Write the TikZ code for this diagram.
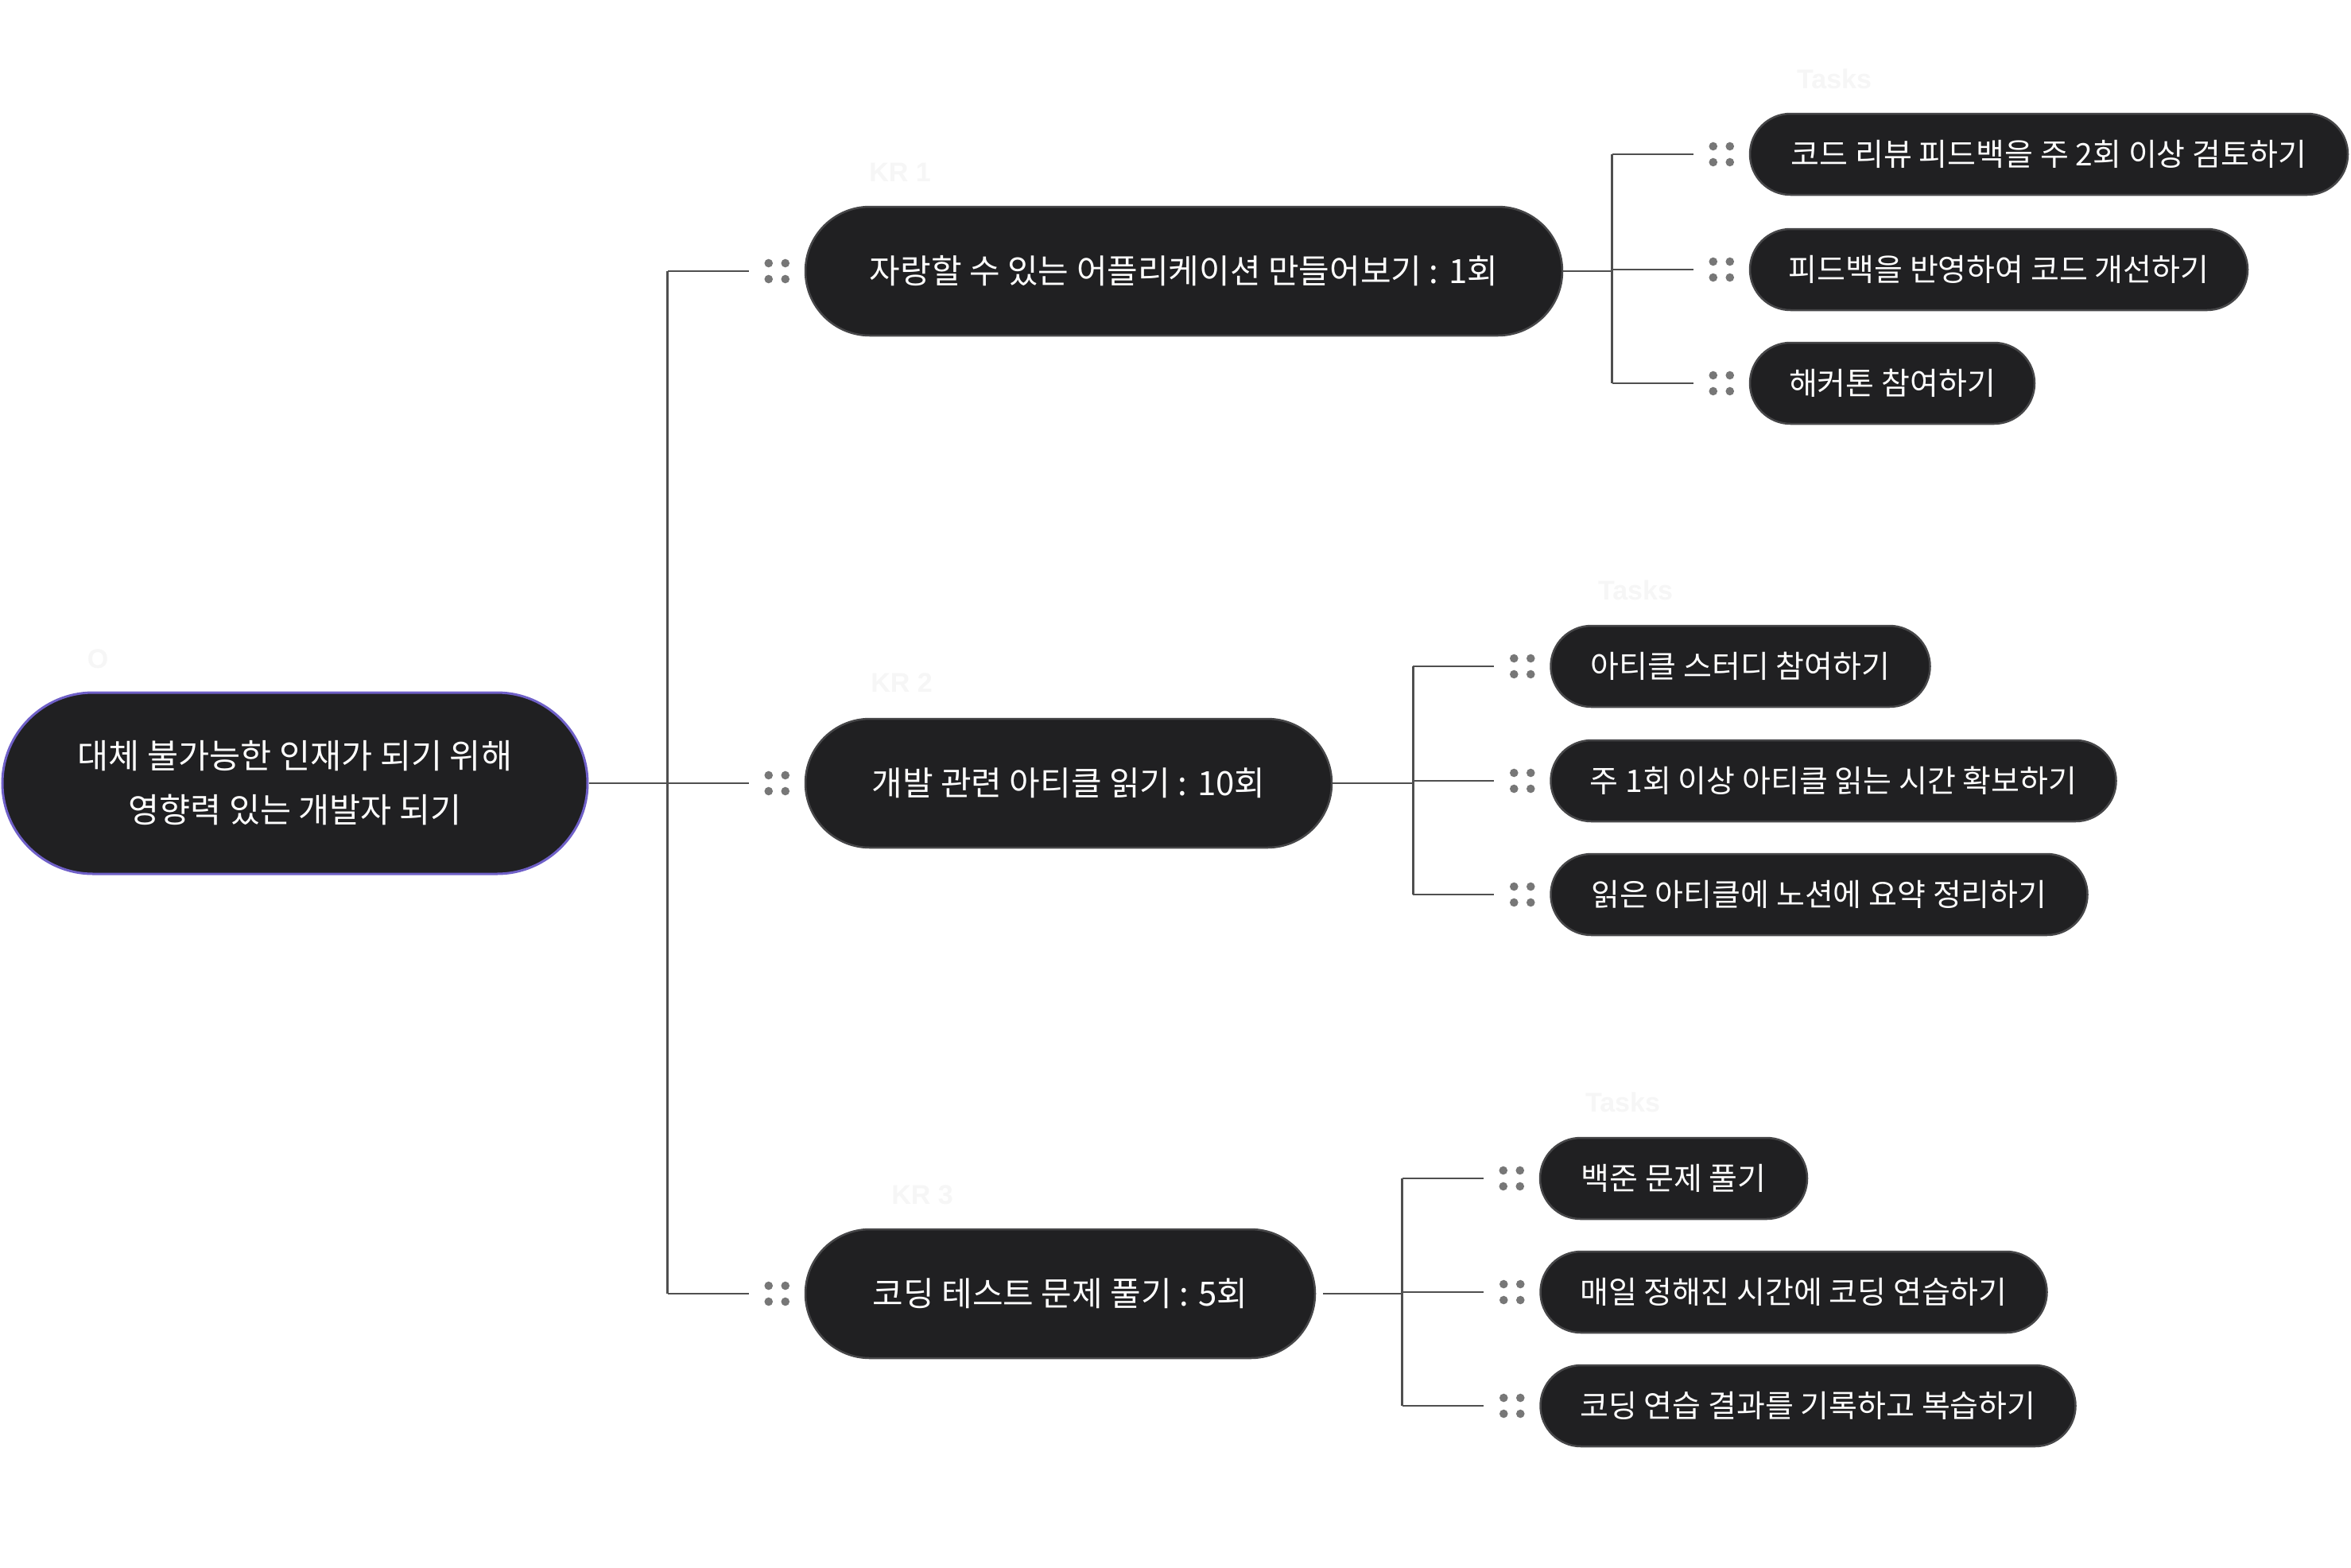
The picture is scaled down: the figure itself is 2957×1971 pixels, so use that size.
\documentclass[tikz,border=0pt]{standalone}
\usepackage{fontspec}
\newfontfamily\kr{Noto Sans CJK KR}
\newfontfamily\lbl{Liberation Sans}[BoldFont={Liberation Sans Bold}]
\definecolor{nodefill}{HTML}{202022}
\definecolor{nodeborder}{HTML}{464648}
\definecolor{rootborder}{HTML}{6F60C8}
\definecolor{conncol}{HTML}{4F4F4F}
\definecolor{dotcol}{HTML}{777777}
\definecolor{ghost}{HTML}{F6F6F6}
\tikzset{
  pill/.style={draw=nodeborder, line width=2.5pt, fill=nodefill, text=white, inner sep=0pt, align=center},
  rootnode/.style={pill, draw=rootborder, line width=3pt, minimum height=228pt, rounded corners=114pt,
     font=\kr\fontsize{42.5}{68}\selectfont},
  krnode/.style={pill, minimum height=162pt, rounded corners=81pt, font=\kr\fontsize{42}{50}\selectfont},
  tasknode/.style={pill, minimum height=102pt, rounded corners=51pt, font=\kr\fontsize{39}{46}\selectfont},
  conn/.style={draw=conncol, line width=2.7pt},
  ghostlabel/.style={text=ghost, font=\lbl\bfseries\fontsize{34}{40}\selectfont, inner sep=0pt},
}
\newcommand\handles[1]{%
  \foreach \dx in {-45,-24}{\foreach \dy in {-10,10}{%
    \fill[dotcol] ([xshift=\dx pt,yshift=\dy pt]#1.west) circle[radius=5.3pt];}}}
\begin{document}
\begin{tikzpicture}[x=1pt,y=-1pt]
\useasboundingbox[fill=white] (0,0) rectangle (2957,1971);

% ghost labels
\node[ghostlabel] (lO) at (123,829) {O};
\node[ghostlabel] (lkr1) at (1132,217) {KR 1};
\node[ghostlabel] (lkr2) at (1134,859) {KR 2};
\node[ghostlabel] (lkr3) at (1160,1503) {KR 3};
\node[ghostlabel] (lt1) at (2307,99) {Tasks};
\node[ghostlabel] (lt2) at (2057,742) {Tasks};
\node[ghostlabel] (lt3) at (2041,1386) {Tasks};

% root
\node[rootnode, minimum width=736pt] (root) at (371,985) {대체 불가능한 인재가 되기 위해\\영향력 있는 개발자 되기};

% KR nodes
\node[krnode, minimum width=952pt] (k1) at (1489,341) {자랑할 수 있는 어플리케이션 만들어보기 : 1회};
\node[krnode, minimum width=662pt] (k2) at (1344,985) {개발 관련 아티클 읽기 : 10회};
\node[krnode, minimum width=641pt] (k3) at (1333.5,1627) {코딩 테스트 문제 풀기 : 5회};

% tasks
\node[tasknode, minimum width=752pt] (t1) at (2577,194) {코드 리뷰 피드백을 주 2회 이상 검토하기};
\node[tasknode, minimum width=626pt] (t2) at (2514,339) {피드백을 반영하여 코드 개선하기};
\node[tasknode, minimum width=358pt] (t3) at (2380,482) {해커톤 참여하기};
\node[tasknode, minimum width=477pt] (t4) at (2189,838) {아티클 스터디 참여하기};
\node[tasknode, minimum width=711pt] (t5) at (2306,982) {주 1회 이상 아티클 읽는 시간 확보하기};
\node[tasknode, minimum width=675pt] (t6) at (2288,1125) {읽은 아티클에 노션에 요약 정리하기};
\node[tasknode, minimum width=336pt] (t7) at (2105,1482) {백준 문제 풀기};
\node[tasknode, minimum width=637pt] (t8) at (2256,1625) {매일 정해진 시간에 코딩 연습하기};
\node[tasknode, minimum width=673pt] (t9) at (2274,1768) {코딩 연습 결과를 기록하고 복습하기};

% handles
\handles{k1}\handles{k2}\handles{k3}
\handles{t1}\handles{t2}\handles{t3}
\handles{t4}\handles{t5}\handles{t6}
\handles{t7}\handles{t8}\handles{t9}

% connectors: root -> KRs
\coordinate (j0) at ([xshift=-172pt]k1.west);
\draw[conn] (root.east) -- (j0 |- root.east);
\draw[conn] (j0 |- k1.west) -- (j0 |- k3.west);
\draw[conn] (j0 |- k1.west) -- ([xshift=-70pt]k1.west);
\draw[conn] (j0 |- k2.west) -- ([xshift=-70pt]k2.west);
\draw[conn] (j0 |- k3.west) -- ([xshift=-70pt]k3.west);

% KR1 -> tasks
\coordinate (j1) at ([xshift=-172pt]t1.west);
\draw[conn] (k1.east) -- (j1 |- k1.east);
\draw[conn] (j1 |- t1.west) -- (j1 |- t3.west);
\draw[conn] (j1 |- t1.west) -- ([xshift=-70pt]t1.west);
\draw[conn] (j1 |- t2.west) -- ([xshift=-70pt]t2.west);
\draw[conn] (j1 |- t3.west) -- ([xshift=-70pt]t3.west);

% KR2 -> tasks
\coordinate (j2) at ([xshift=-172pt]t4.west);
\draw[conn] (k2.east) -- (j2 |- k2.east);
\draw[conn] (j2 |- t4.west) -- (j2 |- t6.west);
\draw[conn] (j2 |- t4.west) -- ([xshift=-70pt]t4.west);
\draw[conn] (j2 |- t5.west) -- ([xshift=-70pt]t5.west);
\draw[conn] (j2 |- t6.west) -- ([xshift=-70pt]t6.west);

% KR3 -> tasks
\coordinate (j3) at ([xshift=-172pt]t7.west);
\draw[conn] ([xshift=9pt]k3.east) -- (j3 |- k3.east);
\draw[conn] (j3 |- t7.west) -- (j3 |- t9.west);
\draw[conn] (j3 |- t7.west) -- ([xshift=-70pt]t7.west);
\draw[conn] (j3 |- t8.west) -- ([xshift=-70pt]t8.west);
\draw[conn] (j3 |- t9.west) -- ([xshift=-70pt]t9.west);
\end{tikzpicture}
\end{document}
